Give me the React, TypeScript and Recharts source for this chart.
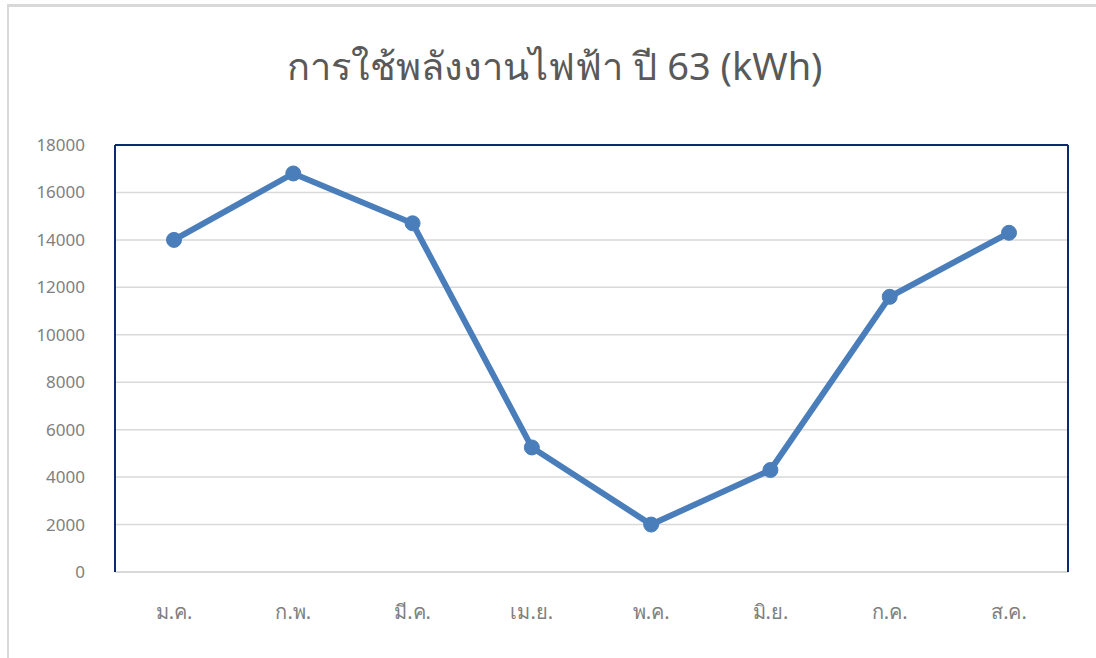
import React from 'react';
import { LineChart, Line, XAxis, YAxis, CartesianGrid, ReferenceLine } from 'recharts';

const months = ['ม.ค.', 'ก.พ.', 'มี.ค.', 'เม.ย.', 'พ.ค.', 'มิ.ย.', 'ก.ค.', 'ส.ค.'];
const usage = [14000, 16800, 14700, 5250, 2000, 4300, 11600, 14300];
const yTicks = [0, 2000, 4000, 6000, 8000, 10000, 12000, 14000, 16000, 18000];

const data = months.map((m, i) => ({ month: m, kwh: usage[i] }));

const NAVY = '#0b2a6f';
const FONT = '"Noto Sans", "DejaVu Sans", sans-serif';

export default function App() {
    return (
        <div style={{ position: 'absolute', left: 0, top: 0, width: 1096, height: 658, background: '#fff', fontFamily: FONT }}>
            {/* outer chart frame */}
            <div style={{ position: 'absolute', left: 7, top: 4, width: 1100, height: 700, borderTop: '3px solid #d9d9d9', borderLeft: '2px solid #d9d9d9' }} />
            <div style={{ position: 'absolute', left: 0, top: 36, width: 1110, textAlign: 'center', fontSize: 38, color: '#595959' }}>
                การใช้พลังงานไฟฟ้า ปี 63 (kWh)
            </div>
            <div style={{ position: 'absolute', left: 0, top: 0 }}>
                <LineChart width={1096} height={658} data={data} margin={{ top: 145, right: 26, left: 0, bottom: 0 }}>
                    <CartesianGrid vertical={false} stroke="#d9d9d9" strokeWidth={1.5} />
                    <XAxis
                        dataKey="month"
                        height={86}
                        padding={{ left: 59, right: 59 }}
                        tickLine={false}
                        tickSize={0}
                        tickMargin={33}
                        axisLine={{ stroke: '#d9d9d9', strokeWidth: 2 }}
                        tick={{ fill: '#7f7f7f', fontSize: 20, fontFamily: FONT }}
                    />
                    <YAxis
                        domain={[0, 18000]}
                        ticks={yTicks}
                        width={115}
                        tickLine={false}
                        tickSize={0}
                        tickMargin={30}
                        axisLine={{ stroke: NAVY, strokeWidth: 2 }}
                        tick={{ fill: '#808080', fontSize: 17, fontFamily: FONT }}
                    />
                    <YAxis
                        yAxisId="r"
                        orientation="right"
                        domain={[0, 18000]}
                        width={2}
                        tick={false}
                        tickLine={false}
                        axisLine={{ stroke: NAVY, strokeWidth: 2 }}
                    />
                    <ReferenceLine y={18000} stroke={NAVY} strokeWidth={2} />
                    <Line
                        type="linear"
                        dataKey="kwh"
                        stroke="#4a7ebb"
                        strokeWidth={6}
                        dot={{ r: 7.5, fill: '#4a7ebb', stroke: '#4a7ebb', strokeWidth: 1 }}
                        isAnimationActive={false}
                    />
                </LineChart>
            </div>
        </div>
    );
}
